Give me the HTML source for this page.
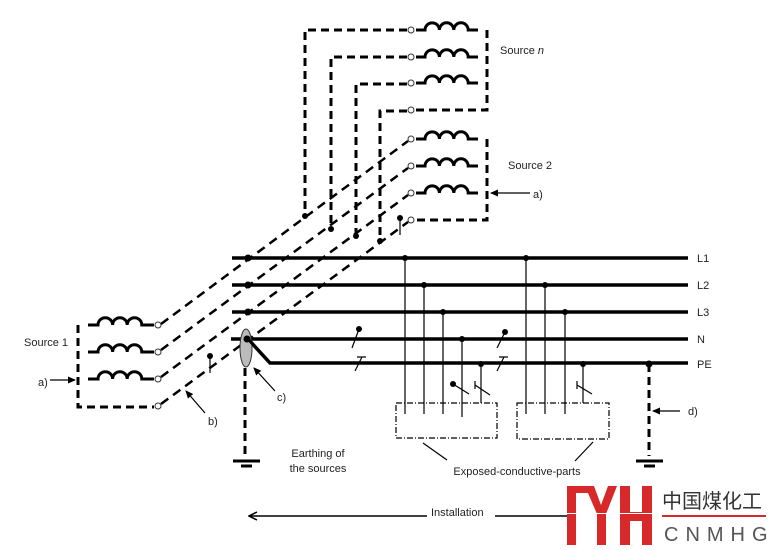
<!DOCTYPE html>
<html><head><meta charset="utf-8"><style>
body{margin:0;background:#fff}
svg{display:block}
text{font-family:"Liberation Sans",Arial,sans-serif;font-size:11px;fill:#222;stroke:none}
</style></head><body>
<svg width="771" height="550" viewBox="0 0 771 550" xmlns="http://www.w3.org/2000/svg">
<defs>
<marker id="ar" markerWidth="8" markerHeight="8" refX="7" refY="4" orient="auto" markerUnits="userSpaceOnUse"><path d="M0,0.5 L8,4 L0,7.5 Z" fill="#000" stroke="none"/></marker>
<marker id="ar2" markerWidth="10" markerHeight="10" refX="9" refY="5" orient="auto" markerUnits="userSpaceOnUse"><path d="M1,1 L9,5 L1,9" fill="none" stroke="#000" stroke-width="1.5"/></marker>
</defs>
<g fill="none" stroke="#000">
<g stroke-width="3">
<path d="M88,325 H98 a7.3,7.3 0 0 1 14.6,0 a7.3,7.3 0 0 1 14.6,0 a7.3,7.3 0 0 1 14.6,0 H154"/>
<path d="M88,352 H98 a7.3,7.3 0 0 1 14.6,0 a7.3,7.3 0 0 1 14.6,0 a7.3,7.3 0 0 1 14.6,0 H154"/>
<path d="M88,379 H98 a7.3,7.3 0 0 1 14.6,0 a7.3,7.3 0 0 1 14.6,0 a7.3,7.3 0 0 1 14.6,0 H154"/>
<path d="M78,325 V407 H154" stroke-dasharray="8,5"/>
</g>
<g stroke-width="3">
<path d="M416,30 H425 a7.2,7.2 0 0 1 14.4,0 a7.2,7.2 0 0 1 14.4,0 a7.2,7.2 0 0 1 14.4,0 H478"/>
<path d="M416,57 H425 a7.2,7.2 0 0 1 14.4,0 a7.2,7.2 0 0 1 14.4,0 a7.2,7.2 0 0 1 14.4,0 H478"/>
<path d="M416,83 H425 a7.2,7.2 0 0 1 14.4,0 a7.2,7.2 0 0 1 14.4,0 a7.2,7.2 0 0 1 14.4,0 H478"/>
<path d="M487,30 V110 H416" stroke-dasharray="8,5"/>
<path d="M416,139 H425 a7.2,7.2 0 0 1 14.4,0 a7.2,7.2 0 0 1 14.4,0 a7.2,7.2 0 0 1 14.4,0 H478"/>
<path d="M416,166 H425 a7.2,7.2 0 0 1 14.4,0 a7.2,7.2 0 0 1 14.4,0 a7.2,7.2 0 0 1 14.4,0 H478"/>
<path d="M416,193 H425 a7.2,7.2 0 0 1 14.4,0 a7.2,7.2 0 0 1 14.4,0 a7.2,7.2 0 0 1 14.4,0 H478"/>
<path d="M487,139 V220 H416" stroke-dasharray="8,5"/>
<path d="M407,30 H305 V216" stroke-dasharray="8,5"/>
<path d="M407,57 H331 V228" stroke-dasharray="8,5"/>
<path d="M407,84 H356 V236" stroke-dasharray="8,5"/>
<path d="M407,111 H380 V241" stroke-dasharray="8,5"/>
</g>
<g stroke-width="2.5" stroke-dasharray="9,6">
<path d="M161,324 L408,141"/>
<path d="M161,350 L408,168"/>
<path d="M161,377 L408,195"/>
<path d="M161,404 L408,222"/>
</g>
<g stroke-width="3.5">
<path d="M232,258 H688"/><path d="M232,285 H688"/><path d="M232,312 H688"/><path d="M231,339 H688"/>
<path d="M248,339 L270,363 H688"/>
</g>
<ellipse cx="246" cy="348" rx="6" ry="19" fill="#bbb" stroke="#333" stroke-width="1"/>
<path d="M248,339 L270,363" stroke-width="3"/>
<g stroke-width="3" stroke-dasharray="8,5">
<path d="M245,368 V456"/><path d="M649,364 V456"/>
</g>
<g stroke-width="3">
<path d="M233,461 H260"/><path d="M241,466 H252"/>
<path d="M636,461 H663"/><path d="M644,466 H655"/>
</g>
<g stroke-width="1.2">
<path d="M405,258 V414"/><path d="M424,285 V414"/><path d="M443,312 V414"/><path d="M462,339 V417"/><path d="M481,364 V403"/>
<path d="M526,258 V414"/><path d="M545,285 V414"/><path d="M565,312 V414"/><path d="M583,364 V403"/>
<path d="M396,403 H497 V438 H396 Z" stroke-dasharray="6,2,1,2"/>
<path d="M517,403 H609 V439 H517 Z" stroke-dasharray="6,2,1,2"/>
<path d="M423,443 L447,460"/><path d="M593,442 L575,461"/>
<path d="M359,329 L352,348"/><path d="M505,332 L497,348"/>
<path d="M355,371 L362,357 M357,357 H366"/><path d="M497,371 L504,357 M499,357 H508"/>
<path d="M453,384 L469,394"/><path d="M475,385 L490,395 M475,381 V389"/><path d="M577,385 L592,394 M577,381 V389"/>
<path d="M210,356 V373"/><path d="M400,218 V235"/>
<path d="M50,380 H75" marker-end="url(#ar)"/>
<path d="M530,193 H491" marker-end="url(#ar)"/>
<path d="M680,411 H653" marker-end="url(#ar)"/>
<path d="M205,413 L186,391" marker-end="url(#ar)"/>
<path d="M275,391 L254,368" marker-end="url(#ar)"/>
<path d="M427,516 H249" stroke-width="1.6" marker-end="url(#ar2)"/>
<path d="M495,516 H567" stroke-width="1.6"/>
</g>
</g>
<g fill="#fff" stroke="#333" stroke-width="1">
<circle cx="158" cy="325" r="3"/><circle cx="158" cy="352" r="3"/><circle cx="158" cy="379" r="3"/><circle cx="158" cy="406" r="3"/>
<circle cx="411" cy="30" r="3"/><circle cx="411" cy="57" r="3"/><circle cx="411" cy="83" r="3"/><circle cx="411" cy="110" r="3"/>
<circle cx="411" cy="139" r="3"/><circle cx="411" cy="166" r="3"/><circle cx="411" cy="193" r="3"/><circle cx="411" cy="220" r="3"/>
</g>
<g fill="#000">
<circle cx="248" cy="258" r="3.5"/><circle cx="248" cy="285" r="3.5"/><circle cx="248" cy="312" r="3.5"/><circle cx="247" cy="339" r="3.5"/>
<circle cx="305" cy="216" r="3"/><circle cx="331" cy="229" r="3"/><circle cx="356" cy="236" r="3"/><circle cx="380" cy="241" r="3"/>
<circle cx="400" cy="218" r="3"/><circle cx="210" cy="356" r="3"/>
<circle cx="405" cy="258" r="3"/><circle cx="424" cy="285" r="3"/><circle cx="443" cy="312" r="3"/><circle cx="462" cy="339" r="3"/><circle cx="481" cy="364" r="3"/>
<circle cx="526" cy="258" r="3"/><circle cx="545" cy="285" r="3"/><circle cx="565" cy="312" r="3"/><circle cx="583" cy="364" r="3"/>
<circle cx="649" cy="364" r="3.5"/>
<circle cx="359" cy="329" r="3"/><circle cx="505" cy="332" r="3"/><circle cx="453" cy="384" r="3"/>
</g>
<text x="24" y="346">Source 1</text>
<text x="38" y="386">a)</text>
<text x="208" y="425">b)</text>
<text x="277" y="401">c)</text>
<text x="500" y="54">Source <tspan font-style="italic">n</tspan></text>
<text x="508" y="169">Source 2</text>
<text x="533" y="198">a)</text>
<text x="688" y="415">d)</text>
<text x="697" y="262">L1</text><text x="697" y="289">L2</text><text x="697" y="316">L3</text><text x="697" y="343">N</text><text x="697" y="368">PE</text>
<text x="318" y="457" text-anchor="middle">Earthing of</text>
<text x="318" y="472" text-anchor="middle">the sources</text>
<text x="517" y="475" text-anchor="middle">Exposed-conductive-parts</text>
<text x="431" y="516">Installation</text>
<g fill="#d7282a">
<rect x="567" y="486" width="9" height="59"/>
<polygon points="567,486 594,486 601,505 608,486 617,486 606,514 606,545 597,545 597,514 588,493 576,493"/>
<rect x="620" y="486" width="10" height="59"/>
<rect x="642" y="486" width="10" height="59"/>
<rect x="620" y="512" width="32" height="9"/>
<rect x="662" y="515" width="104" height="2"/>
</g>
<rect x="565" y="513" width="90" height="1" fill="#fff"/>
<text x="662" y="508" style="font-family:'Liberation Sans','Noto Sans CJK SC',sans-serif;font-size:20px;fill:#333">中国煤化工</text>
<text x="664" y="541" style="font-size:20px;fill:#555;letter-spacing:7px">CNMHG</text>
</svg>
</body></html>
